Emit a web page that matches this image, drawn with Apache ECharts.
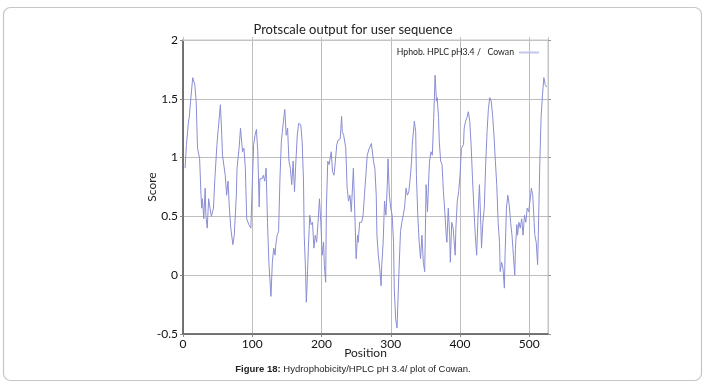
<!DOCTYPE html>
<html>
<head>
<meta charset="utf-8">
<script src="https://cdn.jsdelivr.net/npm/echarts@6/dist/echarts.min.js"></script>
<style>
  html, body { margin: 0; padding: 0; background: #fff; }
  #chart { width: 706px; height: 388px; }
</style>
</head>
<body>
<div id="chart"></div>
<script>
// values
const positions = [
  3, 5, 8, 9, 11, 14, 17, 19, 21, 24, 26, 27, 28, 30, 32, 33, 35, 37, 39, 41,
  44, 46, 49, 51, 54, 56, 57, 61, 63, 65, 67, 69, 72, 74, 77, 78, 81, 83, 86, 88,
  90, 92, 95, 98, 100, 102, 104, 106, 108, 110, 111, 114, 116, 118, 120, 122, 124, 126, 127, 129,
  131, 133, 134, 136, 138, 140, 142, 145, 147, 149, 151, 152, 153, 155, 157, 159, 161, 163, 165, 167,
  170, 172, 174, 175, 177, 178, 179, 181, 183, 185, 187, 189, 191, 193, 195, 197, 199, 201, 203, 204,
  206, 207, 209, 211, 214, 216, 218, 220, 222, 224, 227, 229, 230, 232, 235, 237, 239, 241, 243, 246,
  248, 250, 252, 253, 255, 258, 260, 262, 264, 266, 269, 272, 275, 277, 279, 280, 282, 284, 286, 287,
  289, 291, 293, 295, 296, 298, 300, 302, 304, 305, 307, 309, 310, 312, 314, 316, 318, 320, 322, 324,
  326, 328, 330, 331, 334, 336, 337, 339, 341, 343, 345, 347, 349, 351, 353, 355, 356, 358, 360, 362,
  364, 366, 367, 369, 370, 372, 374, 376, 378, 380, 381, 383, 385, 386, 388, 390, 393, 394, 396, 398,
  400, 402, 405, 406, 408, 410, 412, 414, 416, 418, 420, 422, 424, 426, 428, 430, 431, 433, 435, 437,
  439, 441, 443, 445, 447, 449, 451, 453, 455, 457, 458, 460, 462, 464, 465, 467, 469, 471, 473, 475,
  477, 479, 480, 482, 483, 485, 487, 489, 491, 493, 495, 497, 499, 501, 503, 505, 507, 508, 510, 512,
  513, 515, 517, 519, 521, 523, 525
];
const scores = [
  0.91, 1.11, 1.31, 1.34, 1.48, 1.68, 1.62, 1.48, 1.08, 0.99, 0.68, 0.57, 0.65, 0.48, 0.74, 0.51, 0.40, 0.65, 0.57, 0.50,
  0.57, 0.82, 1.11, 1.25, 1.45, 1.19, 1.02, 0.85, 0.68, 0.80, 0.57, 0.40, 0.26, 0.34, 0.68, 0.91, 1.08, 1.25, 1.05, 1.08,
  0.91, 0.48, 0.43, 0.40, 0.77, 1.11, 1.19, 1.24, 1.05, 0.58, 0.82, 0.82, 0.85, 0.80, 0.91, 0.45, 0.11, -0.09, -0.18, 0.11,
  0.23, 0.17, 0.26, 0.34, 0.37, 0.82, 1.14, 1.31, 1.41, 1.19, 1.25, 1.11, 0.97, 0.91, 0.77, 0.97, 0.71, 0.97, 1.19, 1.29,
  1.28, 1.14, 0.80, 0.34, 0.03, -0.23, -0.11, 0.23, 0.51, 0.43, 0.45, 0.23, 0.34, 0.28, 0.45, 0.65, 0.45, 0.17, 0.28, 0.09,
  -0.06, 0.57, 0.97, 0.94, 1.05, 0.88, 0.85, 0.97, 1.11, 1.15, 1.16, 1.35, 1.22, 1.19, 1.08, 0.74, 0.63, 0.68, 0.54, 0.91,
  0.54, 0.14, 0.34, 0.28, 0.45, 0.45, 0.51, 0.68, 0.85, 1.02, 1.08, 1.12, 0.97, 0.91, 0.68, 0.34, 0.17, 0.06, -0.09, 0.09,
  0.28, 0.63, 0.51, 0.77, 0.99, 0.68, 0.57, 0.51, 0.28, -0.11, -0.37, -0.45, -0.28, 0.06, 0.37, 0.45, 0.51, 0.58, 0.74, 0.68,
  0.71, 0.82, 0.97, 1.11, 1.31, 1.22, 0.85, 0.51, 0.28, 0.14, 0.34, 0.11, 0.03, 0.77, 0.54, 0.85, 0.97, 1.05, 1.02, 1.34,
  1.70, 1.48, 1.51, 1.34, 1.14, 0.97, 0.94, 0.71, 0.54, 0.34, 0.28, 0.57, 0.34, 0.11, 0.45, 0.40, 0.17, 0.40, 0.63, 0.71,
  0.85, 1.08, 1.11, 1.25, 1.31, 1.34, 1.39, 1.31, 1.11, 0.82, 0.57, 0.34, 0.17, 0.51, 0.77, 0.43, 0.23, 0.45, 0.57, 0.94,
  1.22, 1.42, 1.51, 1.48, 1.36, 1.19, 0.97, 0.77, 0.45, 0.28, 0.03, 0.11, 0.06, -0.11, 0.17, 0.57, 0.68, 0.60, 0.45, 0.34,
  0.17, 0.00, 0.23, 0.43, 0.34, 0.45, 0.40, 0.48, 0.34, 0.51, 0.45, 0.57, 0.54, 0.63, 0.74, 0.68, 0.45, 0.34, 0.28, 0.09,
  0.34, 0.91, 1.34, 1.53, 1.68, 1.62, 1.60
];
const seriesName = 'Hphob. HPLC pH3.4 /   Cowan';

const chart = echarts.init(document.getElementById('chart'));
const font = 'Lato, "Open Sans", sans-serif';

const option = {
  animation: false,
  title: {
    text: 'Protscale output for user sequence',
    left: 'center',
    top: 18,
    textStyle: { fontFamily: font, fontSize: 13, fontWeight: 'normal', color: '#222' }
  },
  legend: {
    data: [seriesName],
    right: 162,
    top: 43,
    align: 'right',
    itemWidth: 20,
    itemHeight: 2,
    itemGap: 3,
    icon: 'rect',
    textStyle: { fontFamily: font, fontSize: 8.7, color: '#222' }
  },
  grid: {
    left: 183,
    right: 158,
    top: 40,
    bottom: 54,
    show: true,
    borderColor: '#c4c4c4',
    borderWidth: 1
  },
  xAxis: [
    {
      type: 'value',
      min: 0,
      max: 527,
      interval: 100,
      position: 'bottom',
      name: 'Position',
      nameLocation: 'middle',
      nameGap: 13,
      nameMoveOverlap: false,
      nameTextStyle: { fontFamily: font, fontSize: 12, color: '#222' },
      axisLine: { show: true, onZero: false, lineStyle: { color: '#555', width: 1.5 } },
      axisTick: { show: true, length: 3, lineStyle: { color: '#888' } },
      axisLabel: { fontFamily: font, fontSize: 12, color: '#111', margin: 4, showMaxLabel: false },
      splitLine: { show: true, lineStyle: { color: '#bdbdbd', width: 1 } }
    },
    {
      type: 'value',
      min: 0,
      max: 527,
      interval: 100,
      position: 'top',
      axisLine: { show: true, onZero: false, lineStyle: { color: '#c4c4c4' } },
      axisTick: { show: true, length: 3, lineStyle: { color: '#c4c4c4' } },
      axisLabel: { show: false },
      splitLine: { show: false }
    }
  ],
  yAxis: [
    {
      type: 'value',
      min: -0.5,
      max: 2,
      interval: 0.5,
      position: 'left',
      name: 'Score',
      nameLocation: 'middle',
      nameGap: 25,
      nameMoveOverlap: false,
      nameTextStyle: { fontFamily: font, fontSize: 12, color: '#222' },
      axisLine: { show: true, onZero: false, lineStyle: { color: '#555', width: 1.5 } },
      axisTick: { show: true, length: 3, lineStyle: { color: '#888' } },
      axisLabel: { fontFamily: font, fontSize: 12, color: '#111', margin: 5 },
      splitLine: { show: true, lineStyle: { color: '#bdbdbd', width: 1 } }
    },
    {
      type: 'value',
      min: -0.5,
      max: 2,
      interval: 0.5,
      position: 'right',
      axisLine: { show: true, onZero: false, lineStyle: { color: '#c4c4c4' } },
      axisTick: { show: true, length: 3, lineStyle: { color: '#999' } },
      axisLabel: { show: false },
      splitLine: { show: false }
    }
  ],
  series: [
    {
      name: seriesName,
      type: 'line',
      data: positions.map((p, i) => [p, scores[i]]),
      showSymbol: false,
      color: '#c3c5ea',
      lineStyle: { color: '#8a8dd2', width: 1 }
    }
  ],
  graphic: [
    {
      type: 'rect',
      shape: { x: 3.5, y: 7.5, width: 698, height: 373, r: 7 },
      style: { fill: 'none', stroke: '#c6c6c6', lineWidth: 1.2 },
      silent: true
    },
    {
      type: 'text',
      left: 'center',
      top: 364,
      style: {
        text: '{b|Figure 18:} Hydrophobicity/HPLC pH 3.4/ plot of Cowan.',
        font: '9.5px "Liberation Sans", Arial, sans-serif',
        fill: '#222',
        rich: {
          b: { fontWeight: 'bold', fontSize: 9.5, fontFamily: '"Liberation Sans", Arial, sans-serif', fill: '#222' }
        }
      }
    }
  ]
};

chart.setOption(option);
</script>
</body>
</html>
